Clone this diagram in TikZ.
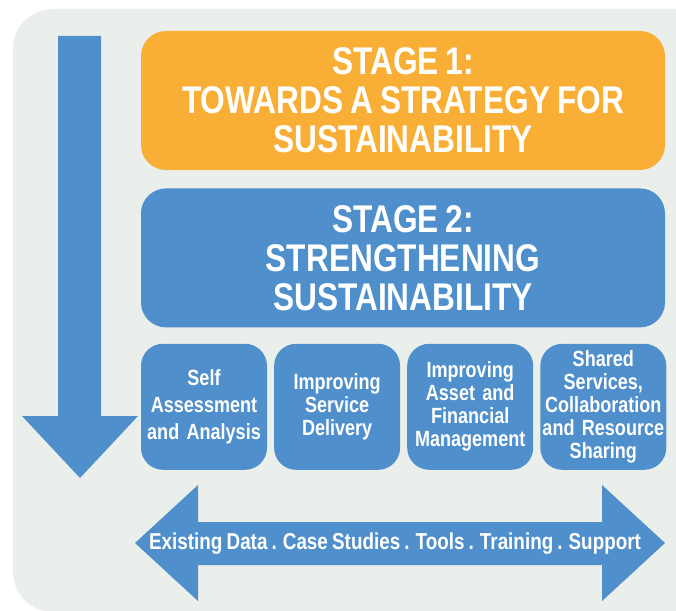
\documentclass[tikz,border=0pt]{standalone}
\usepackage{fontspec}
\setmainfont[FakeStretch=0.82, WordSpace=0.8]{Liberation Sans}
\usetikzlibrary{calc}
\usetikzlibrary{positioning}
\definecolor{bgGrey}{HTML}{EBEFEC}
\definecolor{stageOrange}{HTML}{F9AF36}
\definecolor{stageBlue}{HTML}{4F8FCB}
\tikzstyle{stage} = [rectangle, rounded corners=25pt, minimum width=524pt, minimum height=139pt, inner sep=0pt, align=center, fill=stageBlue, text=white, font=\bfseries\fontsize{38.6}{39}\selectfont]
\tikzstyle{task} = [rectangle, rounded corners=22pt, minimum width=126pt, text width=124pt, minimum height=126pt, inner sep=0pt, align=center, fill=stageBlue, text=white, font=\bfseries\fontsize{22}{23}\selectfont]
\tikzstyle{bigArrow} = [fill=stageBlue]
\newcommand{\gap}{6.7pt}

\begin{document}
\begin{tikzpicture}[x=1pt, y=-1pt, node distance=18pt]

  \clip (0,0) rectangle (676,610);

  % Background panel
  \fill [bgGrey, rounded corners=40pt] (13,9) rectangle (720,612);

  % Stage 1
  \node [stage, fill=stageOrange] (stageOne) at (403,100.5) {STAGE 1:\\TOWARDS A STRATEGY FOR\\SUSTAINABILITY};

  % Stage 2
  \node [stage, below=of stageOne] (stageTwo) {STAGE 2:\\STRENGTHENING\\SUSTAINABILITY};

  % Task boxes
  \node [task, anchor=north west, font=\bfseries\fontsize{22}{27}\selectfont] (taskSelf) at ([yshift=-16pt]stageTwo.south west) {Self\\Assessment\\and Analysis\\[4pt]};
  \node [task, right=\gap of taskSelf] (taskService) {Improving\\Service\\Delivery};
  \node [task, right=\gap of taskService] (taskAsset) {Improving\\Asset and\\Financial\\Management};
  \node [task, right=\gap of taskAsset] (taskShared) {Shared\\Services,\\Collaboration\\and Resource\\Sharing};

  % Downward arrow
  \coordinate (downTop) at (80,36);
  \coordinate (downHead) at (80,416);
  \coordinate (downTip) at (80,478);
  \fill [bigArrow] ([xshift=-22pt]downTop) -- ([xshift=21pt]downTop) -- ([xshift=21pt]downHead) -- ([xshift=58pt]downHead) -- (downTip) -- ([xshift=-58pt]downHead) -- ([xshift=-22pt]downHead) -- cycle;

  % Double arrow
  \coordinate (leftTip) at (135,543);
  \coordinate (rightTip) at (665,543);
  \fill [bigArrow] (leftTip) -- (198,485) -- (198,522) -- (602,522) -- (602,485) -- (rightTip) -- (602,601) -- (602,565) -- (198,565) -- (198,601) -- cycle;
  \node [text=white, font=\bfseries\fontsize{23}{24}\selectfont] (support) at ($(leftTip)!0.5!(rightTip)+(-5,1)$) {Existing Data . Case Studies . Tools . Training . Support};

\end{tikzpicture}
\end{document}
